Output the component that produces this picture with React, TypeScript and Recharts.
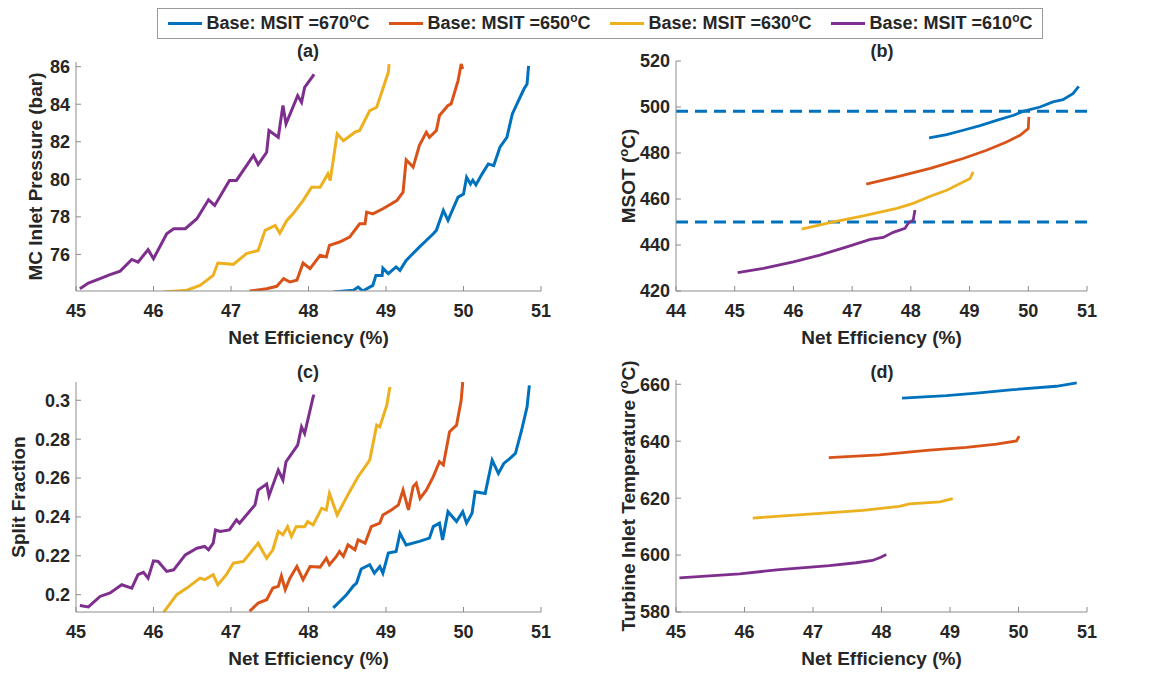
import { Line, LineChart, ReferenceLine, XAxis, YAxis } from "recharts";

const FONT = '"Liberation Sans", Arial, Helvetica, sans-serif';
const TEXT = "#262626";
const AXIS = "#8c8c8c";

const msit = [670, 650, 630, 610];
const colors = ["#0072BD", "#D95319", "#EDB120", "#7E2F8E"];

// (a) MC inlet pressure vs net efficiency
const effA670 = [48.32, 48.58, 48.64, 48.7, 48.83, 48.87, 48.95, 48.96, 49.03, 49.13, 49.18, 49.26, 49.43, 49.61, 49.65, 49.74, 49.8, 49.93, 50.0, 50.04, 50.09, 50.12, 50.16, 50.24, 50.32, 50.39, 50.47, 50.56, 50.63, 50.69, 50.78, 50.82, 50.84];
const pA670 = [74.0, 74.09, 74.26, 74.05, 74.35, 74.88, 74.88, 75.27, 74.97, 75.33, 75.15, 75.68, 76.39, 77.1, 77.28, 78.34, 77.81, 79.05, 79.22, 80.11, 79.75, 79.95, 79.7, 80.29, 80.82, 80.73, 81.71, 82.24, 83.48, 84.02, 84.81, 85.08, 86.05];
const effA650 = [47.24, 47.46, 47.59, 47.68, 47.76, 47.85, 47.93, 48.02, 48.15, 48.23, 48.27, 48.4, 48.53, 48.66, 48.73, 48.75, 48.83, 48.96, 49.14, 49.22, 49.26, 49.35, 49.43, 49.52, 49.56, 49.65, 49.69, 49.8, 49.84, 49.93, 49.97, 49.99];
const pA650 = [74.05, 74.17, 74.3, 74.71, 74.53, 74.62, 75.54, 75.24, 75.95, 75.86, 76.48, 76.66, 76.92, 77.63, 77.63, 78.25, 78.16, 78.43, 78.87, 79.32, 81.04, 80.65, 81.8, 82.51, 82.24, 82.6, 83.4, 83.93, 84.02, 85.26, 86.14, 85.88];
const effA630 = [46.13, 46.43, 46.6, 46.77, 46.83, 47.03, 47.2, 47.35, 47.44, 47.57, 47.63, 47.72, 47.8, 47.93, 48.04, 48.15, 48.25, 48.28, 48.37, 48.45, 48.6, 48.66, 48.79, 48.88, 48.98, 49.03, 49.04];
const pA630 = [74.0, 74.09, 74.35, 74.88, 75.54, 75.47, 76.04, 76.21, 77.28, 77.54, 77.13, 77.81, 78.16, 78.87, 79.58, 79.58, 80.29, 79.94, 82.42, 82.06, 82.51, 82.6, 83.66, 83.84, 85.08, 85.7, 86.14];
const effA610 = [45.05, 45.16, 45.31, 45.44, 45.57, 45.72, 45.8, 45.93, 46.0, 46.17, 46.26, 46.41, 46.56, 46.71, 46.79, 46.98, 47.07, 47.29, 47.35, 47.46, 47.49, 47.61, 47.67, 47.71, 47.86, 47.91, 47.95, 48.06, 48.07];
const pA610 = [74.17, 74.47, 74.71, 74.92, 75.11, 75.73, 75.59, 76.25, 75.77, 77.1, 77.37, 77.37, 77.9, 78.91, 78.61, 79.94, 79.94, 81.27, 80.79, 81.44, 82.6, 82.24, 83.93, 82.95, 84.46, 84.1, 84.9, 85.52, 85.6];

// (b) MSOT vs net efficiency
const effB670 = [48.31, 48.61, 48.89, 49.18, 49.46, 49.75, 49.91, 50.2, 50.42, 50.59, 50.76, 50.86];
const tB670 = [486.6, 488.0, 489.9, 491.9, 494.2, 496.4, 498.1, 500.0, 502.2, 503.2, 505.8, 509.0];
const effB650 = [47.24, 47.76, 48.33, 48.89, 49.29, 49.63, 49.86, 50.0, 50.01];
const tB650 = [466.5, 469.6, 473.3, 477.6, 481.2, 484.8, 487.7, 490.6, 495.7];
const effB630 = [46.14, 46.62, 47.19, 47.76, 48.04, 48.33, 48.61, 48.84, 49.01, 49.06];
const tB630 = [446.9, 449.7, 452.7, 455.9, 458.1, 461.2, 463.8, 466.7, 468.9, 471.8];
const effB610 = [45.05, 45.49, 46.0, 46.45, 46.91, 47.31, 47.53, 47.7, 47.9, 47.96, 48.04, 48.07];
const tB610 = [428.0, 429.8, 432.7, 435.6, 439.2, 442.4, 443.3, 445.5, 447.2, 449.7, 450.8, 455.2];
const msotLimits = [498.2, 450];

// (c) split fraction vs net efficiency
const effC670 = [48.32, 48.49, 48.58, 48.62, 48.68, 48.79, 48.85, 48.92, 48.96, 49.03, 49.13, 49.18, 49.26, 49.43, 49.56, 49.61, 49.69, 49.73, 49.8, 49.91, 49.99, 50.04, 50.11, 50.15, 50.28, 50.37, 50.45, 50.52, 50.6, 50.67, 50.75, 50.82, 50.85];
const sfC670 = [0.1932, 0.2, 0.2046, 0.206, 0.2132, 0.2154, 0.2111, 0.2145, 0.2111, 0.2214, 0.2222, 0.2316, 0.2256, 0.2274, 0.2291, 0.235, 0.2368, 0.2282, 0.2427, 0.2376, 0.2427, 0.2368, 0.2419, 0.253, 0.2521, 0.2692, 0.2624, 0.2675, 0.2701, 0.2727, 0.2846, 0.2966, 0.3077];
const effC650 = [47.24, 47.35, 47.46, 47.54, 47.61, 47.65, 47.7, 47.76, 47.85, 47.93, 48.02, 48.15, 48.23, 48.27, 48.36, 48.4, 48.45, 48.51, 48.6, 48.64, 48.73, 48.81, 48.92, 48.96, 49.07, 49.16, 49.22, 49.29, 49.35, 49.39, 49.44, 49.52, 49.61, 49.69, 49.74, 49.82, 49.91, 49.97, 49.99];
const sfC650 = [0.1915, 0.1957, 0.1974, 0.2034, 0.2043, 0.2097, 0.2026, 0.2085, 0.2145, 0.2077, 0.2145, 0.2142, 0.2188, 0.2154, 0.2197, 0.2222, 0.2197, 0.2256, 0.2231, 0.2282, 0.2265, 0.235, 0.2368, 0.241, 0.2436, 0.2462, 0.2538, 0.2436, 0.2556, 0.2573, 0.2496, 0.2538, 0.2607, 0.2684, 0.2667, 0.2838, 0.2872, 0.3, 0.3094];
const effC630 = [46.13, 46.3, 46.43, 46.6, 46.66, 46.77, 46.83, 46.94, 47.03, 47.16, 47.35, 47.46, 47.54, 47.61, 47.67, 47.73, 47.78, 47.84, 47.95, 47.99, 48.06, 48.17, 48.23, 48.27, 48.37, 48.53, 48.64, 48.79, 48.88, 48.92, 49.01, 49.05];
const sfC630 = [0.1909, 0.2, 0.2034, 0.2085, 0.2077, 0.2103, 0.2051, 0.2103, 0.2162, 0.2171, 0.2265, 0.2188, 0.2231, 0.2325, 0.2308, 0.235, 0.2299, 0.235, 0.235, 0.2376, 0.2359, 0.2444, 0.2436, 0.2521, 0.241, 0.253, 0.2607, 0.2692, 0.2872, 0.2863, 0.2974, 0.3068];
const effC610 = [45.05, 45.16, 45.31, 45.44, 45.59, 45.72, 45.8, 45.87, 45.93, 46.0, 46.06, 46.17, 46.26, 46.41, 46.56, 46.66, 46.71, 46.77, 46.8, 46.86, 46.98, 47.07, 47.11, 47.31, 47.35, 47.46, 47.49, 47.61, 47.67, 47.71, 47.86, 47.91, 47.95, 48.06, 48.07];
const sfC610 = [0.1944, 0.1937, 0.1991, 0.2009, 0.2051, 0.2034, 0.2103, 0.2115, 0.2085, 0.2174, 0.2171, 0.212, 0.2128, 0.2205, 0.2239, 0.2248, 0.2231, 0.2265, 0.2333, 0.2325, 0.2333, 0.2385, 0.2368, 0.2462, 0.2538, 0.2569, 0.2508, 0.2641, 0.259, 0.2684, 0.2769, 0.2863, 0.2829, 0.3017, 0.3029];

// (d) turbine inlet temperature vs net efficiency
const effD670 = [48.3, 48.95, 49.43, 49.92, 50.55, 50.85];
const tD670 = [655.1, 656.0, 657.0, 658.1, 659.3, 660.5];
const effD650 = [47.23, 47.97, 48.7, 49.24, 49.68, 49.97, 50.01];
const tD650 = [634.2, 635.2, 636.9, 637.8, 639.0, 640.1, 641.8];
const effD630 = [46.12, 47.0, 47.73, 48.26, 48.41, 48.85, 49.04];
const tD630 = [613.0, 614.5, 615.7, 617.1, 618.0, 618.7, 619.8];
const effD610 = [45.05, 45.93, 46.51, 47.24, 47.63, 47.87, 47.99, 48.07];
const tD610 = [592.0, 593.4, 594.9, 596.3, 597.3, 598.1, 599.2, 600.2];

const zip = (xs: number[], ys: number[]) => xs.map((x, i) => ({ x, y: ys[i] }));

const tickStyle = { fill: TEXT, fontSize: 18, fontWeight: "bold", fontFamily: FONT };

type Series = { x: number[]; y: number[] }[];

type PanelProps = {
  left: number;
  top: number;
  width: number;
  height: number;
  margin: { top: number; right: number; bottom: number; left: number };
  xDomain: [number, number];
  xTicks: number[];
  yDomain: [number, number];
  yTicks: number[];
  series: Series;
  yLabel: React.ReactNode;
  yLabelX: number;
  strokeWidth: number;
  refs?: number[];
};

const Y_W = 60;
const X_H = 60;

function Panel(p: PanelProps) {
  const plotX = p.margin.left + Y_W;
  const plotW = p.width - plotX - p.margin.right;
  const plotH = p.height - p.margin.top - p.margin.bottom - X_H;
  const plotBottom = p.margin.top + plotH;
  const cy = p.margin.top + plotH / 2;
  return (
    <div style={{ position: "absolute", left: p.left, top: p.top }}>
      <LineChart width={p.width} height={p.height} margin={p.margin}>
        <XAxis
          type="number"
          dataKey="x"
          domain={p.xDomain}
          ticks={p.xTicks}
          allowDataOverflow
          interval={0}
          height={X_H}
          stroke={AXIS}
          tickSize={-5}
          tickMargin={18}
          tick={tickStyle}
          label={{
            content: () => (
              <text
                x={plotX + plotW / 2}
                y={plotBottom + 46}
                dy="0.35em"
                textAnchor="middle"
                fill={TEXT}
                fontSize={19}
                fontWeight="bold"
                fontFamily={FONT}
              >
                Net Efficiency (%)
              </text>
            ),
          }}
        />
        <YAxis
          type="number"
          dataKey="y"
          domain={p.yDomain}
          ticks={p.yTicks}
          allowDataOverflow
          interval={0}
          width={Y_W}
          stroke={AXIS}
          tickSize={-5}
          tickMargin={11}
          tick={tickStyle}
          label={{
            content: () => (
              <text
                x={p.yLabelX}
                y={cy}
                dy="0.35em"
                transform={`rotate(-90 ${p.yLabelX} ${cy})`}
                textAnchor="middle"
                fill={TEXT}
                fontSize={19}
                fontWeight="bold"
                fontFamily={FONT}
              >
                {p.yLabel}
              </text>
            ),
          }}
        />
        {(p.refs || []).map((v) => (
          <ReferenceLine key={v} y={v} stroke={colors[0]} strokeWidth={3} strokeDasharray="12 7" ifOverflow="hidden" />
        ))}
        {p.series.map((s, i) => (
          <Line
            key={msit[i]}
            data={zip(s.x, s.y)}
            dataKey="y"
            type="linear"
            stroke={colors[i]}
            strokeWidth={p.strokeWidth}
            dot={false}
            activeDot={false}
            isAnimationActive={false}
          />
        ))}
      </LineChart>
    </div>
  );
}

const degC = (
  <>
    <tspan dy={-7} fontSize={13}>o</tspan>
    <tspan dy={7}>C)</tspan>
  </>
);

function Title({ x, y, text }: { x: number; y: number; text: string }) {
  return (
    <div
      style={{
        position: "absolute",
        left: x - 30,
        top: y - 11,
        width: 60,
        textAlign: "center",
        fontSize: 18,
        lineHeight: "22px",
        fontWeight: "bold",
        color: TEXT,
        fontFamily: FONT,
      }}
    >
      {text}
    </div>
  );
}

export default function App() {
  return (
    <div
      style={{
        position: "absolute",
        left: 0,
        top: 0,
        width: 1169,
        height: 673,
        background: "#fff",
        fontFamily: FONT,
        overflow: "hidden",
      }}
    >
      {/* legend */}
      <div
        style={{
          position: "absolute",
          left: 157,
          top: 8,
          width: 884,
          height: 29,
          border: "1px solid #9a9a9a",
          display: "flex",
          alignItems: "center",
          justifyContent: "space-around",
          fontSize: 18,
          fontWeight: "bold",
          color: TEXT,
        }}
      >
        {msit.map((t, i) => (
          <div key={t} style={{ display: "flex", alignItems: "center" }}>
            <div style={{ width: 34, height: 3, background: colors[i], marginRight: 5 }} />
            <span>
              Base: MSIT ={t}
              <sup style={{ fontSize: 12, lineHeight: 0 }}>o</sup>C
            </span>
          </div>
        ))}
      </div>

      <Title x={308} y={51} text="(a)" />
      <Title x={882} y={51} text="(b)" />
      <Title x={308} y={372} text="(c)" />
      <Title x={882} y={372} text="(d)" />

      <Panel
        left={0}
        top={40}
        width={580}
        height={320}
        margin={{ top: 22, right: 39, bottom: 9, left: 16 }}
        xDomain={[45, 51]}
        xTicks={[45, 46, 47, 48, 49, 50, 51]}
        yDomain={[74.05, 86.25]}
        yTicks={[76, 78, 80, 82, 84, 86]}
        series={[
          { x: effA670, y: pA670 },
          { x: effA650, y: pA650 },
          { x: effA630, y: pA630 },
          { x: effA610, y: pA610 },
        ]}
        yLabel="MC Inlet Pressure (bar)"
        yLabelX={35}
        strokeWidth={3}
      />
      <Panel
        left={584}
        top={40}
        width={585}
        height={320}
        margin={{ top: 21, right: 82, bottom: 9, left: 32 }}
        xDomain={[44, 51]}
        xTicks={[44, 45, 46, 47, 48, 49, 50, 51]}
        yDomain={[420, 520]}
        yTicks={[420, 440, 460, 480, 500, 520]}
        series={[
          { x: effB670, y: tB670 },
          { x: effB650, y: tB650 },
          { x: effB630, y: tB630 },
          { x: effB610, y: tB610 },
        ]}
        yLabel={<>MSOT ({degC}</>}
        yLabelX={44}
        strokeWidth={2.8}
        refs={msotLimits}
      />
      <Panel
        left={0}
        top={360}
        width={580}
        height={313}
        margin={{ top: 22, right: 39, bottom: 1, left: 16 }}
        xDomain={[45, 51]}
        xTicks={[45, 46, 47, 48, 49, 50, 51]}
        yDomain={[0.1911, 0.3094]}
        yTicks={[0.2, 0.22, 0.24, 0.26, 0.28, 0.3]}
        series={[
          { x: effC670, y: sfC670 },
          { x: effC650, y: sfC650 },
          { x: effC630, y: sfC630 },
          { x: effC610, y: sfC610 },
        ]}
        yLabel="Split Fraction"
        yLabelX={18}
        strokeWidth={3}
      />
      <Panel
        left={584}
        top={360}
        width={585}
        height={313}
        margin={{ top: 20, right: 82, bottom: 1, left: 32 }}
        xDomain={[45, 51]}
        xTicks={[45, 46, 47, 48, 49, 50, 51]}
        yDomain={[580, 661.5]}
        yTicks={[580, 600, 620, 640, 660]}
        series={[
          { x: effD670, y: tD670 },
          { x: effD650, y: tD650 },
          { x: effD630, y: tD630 },
          { x: effD610, y: tD610 },
        ]}
        yLabel={<>Turbine Inlet Temperature ({degC}</>}
        yLabelX={44}
        strokeWidth={2.8}
      />
    </div>
  );
}
